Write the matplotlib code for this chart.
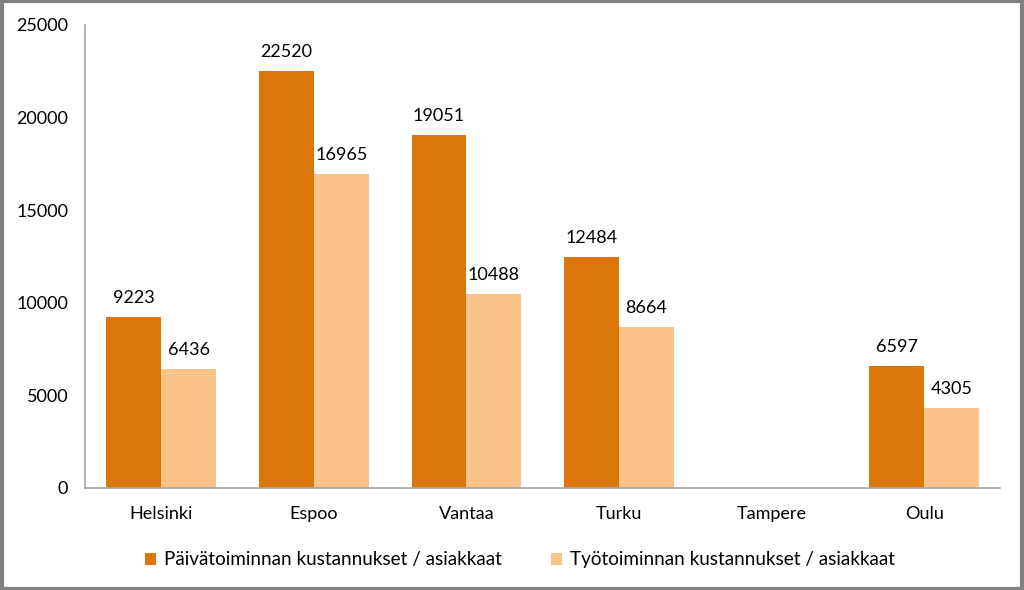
import matplotlib.pyplot as plt
import numpy as np
from matplotlib.patches import Rectangle

plt.rcParams['font.family'] = ['Lato', 'DejaVu Sans']

kaupungit = ["Helsinki", "Espoo", "Vantaa", "Turku", "Tampere", "Oulu"]
paiva = [9223, 22520, 19051, 12484, np.nan, 6597]
tyo = [6436, 16965, 10488, 8664, np.nan, 4305]
sarjat = ["Päivätoiminnan kustannukset / asiakkaat", "Työtoiminnan kustannukset / asiakkaat"]
yticks = [0, 5000, 10000, 15000, 20000, 25000]

tumma = "#DB760A"
vaalea = "#F9C38A"

fig = plt.figure(figsize=(10.24, 5.9), dpi=100)
ax = fig.add_axes([0.083, 0.173, 0.894, 0.785])
x = np.arange(len(kaupungit))
w = 0.36
b1 = ax.bar(x - w / 2, paiva, w, color=tumma, label=sarjat[0])
b2 = ax.bar(x + w / 2, tyo, w, color=vaalea, label=sarjat[1])

for bars, vals in ((b1, paiva), (b2, tyo)):
    for r, v in zip(bars, vals):
        if np.isnan(v):
            continue
        ax.annotate(str(int(v)), (r.get_x() + r.get_width() / 2, v), xytext=(0, 8),
                    textcoords="offset points", ha="center", va="bottom", fontsize=13)

ax.set_xlim(-0.5, len(kaupungit) - 0.5)
ax.set_ylim(0, 25000)
ax.set_yticks(yticks)
ax.set_xticks(x)
ax.set_xticklabels(kaupungit)
ax.tick_params(length=0, labelsize=13, colors="#000000")
ax.tick_params(axis="y", pad=12)
ax.tick_params(axis="x", pad=13)
for s in ("top", "right"):
    ax.spines[s].set_visible(False)
for s in ("left", "bottom"):
    ax.spines[s].set_color("#A6A6A6")
    ax.spines[s].set_linewidth(1.2)

ax.legend(loc="upper center", bbox_to_anchor=(0.475, -0.1), ncol=2, frameon=False,
          fontsize=13.6, handlelength=0.6, handleheight=0.6, handletextpad=0.4, columnspacing=2.6)

fig.patches.append(Rectangle((0.0015, 0.0025), 0.997, 0.995, transform=fig.transFigure,
                             fill=False, edgecolor="#808080", linewidth=3))

plt.savefig("out.png", dpi=100)
plt.close()
